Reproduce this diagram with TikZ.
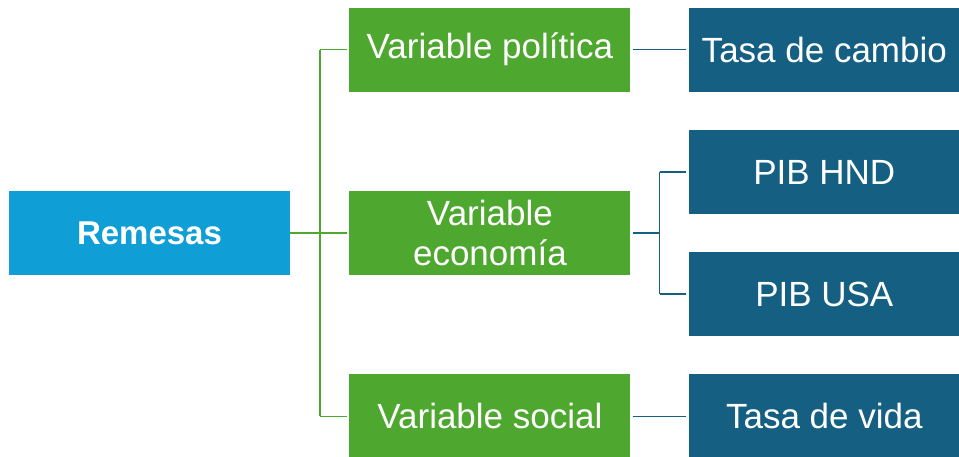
\documentclass[tikz,border=0pt]{standalone}
\usepackage{fontspec}
\setmainfont{Liberation Sans}
\usetikzlibrary{positioning}

\definecolor{remesasblue}{HTML}{0F9ED5}
\definecolor{vargreen}{HTML}{4EA72E}
\definecolor{factorblue}{HTML}{156082}

\tikzset{
  box/.style = {inner sep=0pt, minimum height=84pt, text=white, align=center,
                font=\fontsize{35}{40}\selectfont},
  rootbox/.style = {box, fill=remesasblue, minimum width=281pt,
                    font=\fontsize{33}{40}\selectfont\bfseries},
  varbox/.style = {box, fill=vargreen, minimum width=281pt},
  factorbox/.style = {box, fill=factorblue, minimum width=271pt},
  greenline/.style = {draw=vargreen, line width=1.6pt, shorten >=2.5pt},
  blueline/.style = {draw=factorblue, line width=1.6pt, shorten >=2.5pt, shorten <=2pt}
}

\begin{document}
\begin{tikzpicture}
    \useasboundingbox (0,0) rectangle (959pt,457pt);

    % root and the three variables
    \node[rootbox] (remesas) at (149.5pt,224pt) {Remesas};
    \node[varbox, right=59pt of remesas] (varEco) {Variable\\economía};
    \node[varbox, above=99pt of varEco] (varPol) {Variable política};
    \node[varbox, below=99pt of varEco] (varSoc) {Variable social};

    % factors
    \node[factorbox, right=58pt of varPol] (tasaCambio) {Tasa de cambio};
    \node[factorbox, right=58pt of varEco, yshift=61pt] (pibHnd) {PIB HND};
    \node[factorbox, right=58pt of varEco, yshift=-61pt] (pibUsa) {PIB USA};
    \node[factorbox, right=58pt of varSoc] (tasaVida) {Tasa de vida};

    % green tree from Remesas
    \draw[greenline, shorten >=0pt] (remesas.east) -- ++(30pt,0) coordinate (trunk);
    \draw[greenline, shorten >=0pt] (trunk |- varPol.west) -- (trunk |- varSoc.west);
    \foreach \v in {varPol,varEco,varSoc}
      \draw[greenline] (trunk |- \v.west) -- (\v.west);

    % blue branches
    \draw[blueline] (varPol.east) -- (tasaCambio.west);
    \draw[blueline] (varSoc.east) -- (tasaVida.west);
    \draw[blueline, shorten >=0pt] (varEco.east) -- ++(29pt,0) coordinate (fork);
    \draw[blueline, shorten >=0pt, shorten <=0pt] (fork |- pibHnd.west) -- (fork |- pibUsa.west);
    \foreach \f in {pibHnd,pibUsa}
      \draw[blueline, shorten <=0pt] (fork |- \f.west) -- (\f.west);
\end{tikzpicture}
\end{document}
